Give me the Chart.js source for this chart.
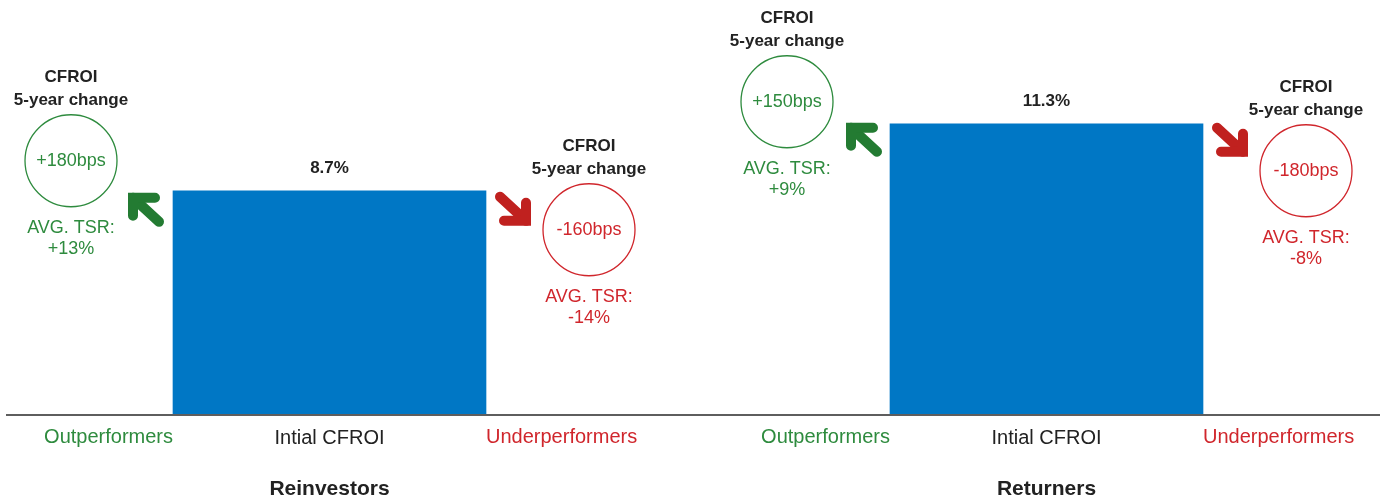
<!DOCTYPE html>
<html>
<head>
<meta charset="utf-8">
<script src="https://cdn.jsdelivr.net/npm/chart.js@4.4.1/dist/chart.umd.min.js"></script>
<style>
  html, body { margin: 0; padding: 0; background: #fff; overflow: hidden; width: 1380px; height: 501px; }
  #wrap { position: absolute; left: -29px; top: 0; width: 1434px; height: 501px; }
</style>
</head>
<body>
<div id="wrap"><canvas id="chart-area" width="1434" height="501"></canvas></div>
<script>
// data
var categories = ['Intial CFROI', 'Intial CFROI'];
var groups = ['Reinvestors', 'Returners'];
var initialCfroi = [8.7, 11.3];
var outChangeBps = [180, 150];
var outTsr = [13, 9];
var underChangeBps = [-160, -180];
var underTsr = [-14, -8];

var GREEN = '#2e8b3e', GREEN_DARK = '#237b32';
var RED = '#d0262c', RED_DARK = '#c0211f';
var DARK = '#222222';
var FONT = '"Liberation Sans", Arial, Helvetica, sans-serif';

// placement of the annotation bubbles relative to each bar (px)
var notePos = [
  { up: { cx: -102, cy: -30, ax: -27, ay: 19 }, down: { cx: 103, cy: 39, ax: 27, ay: 18 } },
  { up: { cx: -103, cy: -22, ax: -26, ay: 16 }, down: { cx: 103, cy: 47, ax: 27, ay: 16 } }
];

function fmtBps(v) { return (v > 0 ? '+' : '') + v + 'bps'; }
function fmtPct(v) { return (v > 0 ? '+' : '') + v + '%'; }

function drawArrow(ctx, x, y, up, color) {
  var d = up ? -1 : 1;
  ctx.save();
  ctx.strokeStyle = color;
  ctx.lineWidth = 10;
  ctx.lineCap = 'round';
  ctx.lineJoin = 'miter';
  var tipX = x + d * 13, tipY = y + d * 12;
  ctx.beginPath();
  ctx.moveTo(x - d * 13, y - d * 12);
  ctx.lineTo(tipX, tipY);
  ctx.stroke();
  ctx.beginPath();
  ctx.moveTo(tipX, tipY - d * 18);
  ctx.lineTo(tipX, tipY);
  ctx.lineTo(tipX - d * 22, tipY);
  ctx.stroke();
  ctx.restore();
}

function drawNote(ctx, cx, cy, color, bps, tsr) {
  ctx.save();
  ctx.textAlign = 'center';
  ctx.textBaseline = 'middle';
  ctx.fillStyle = DARK;
  ctx.font = 'bold 17px ' + FONT;
  ctx.fillText('CFROI', cx, cy - 83);
  ctx.fillText('5-year change', cx, cy - 60);
  ctx.beginPath();
  ctx.arc(cx, cy, 46, 0, Math.PI * 2);
  ctx.strokeStyle = color;
  ctx.lineWidth = 1.3;
  ctx.stroke();
  ctx.fillStyle = color;
  ctx.font = '18px ' + FONT;
  ctx.fillText(fmtBps(bps), cx, cy);
  ctx.fillText('AVG. TSR:', cx, cy + 67);
  ctx.fillText(fmtPct(tsr), cx, cy + 88);
  ctx.restore();
}

var notesPlugin = {
  id: 'notes',
  afterDatasetsDraw: function(chart) {
    var ctx = chart.ctx;
    var area = chart.chartArea;
    var bars = chart.getDatasetMeta(0).data;
    // baseline
    ctx.save();
    ctx.strokeStyle = '#5e5e5e';
    ctx.lineWidth = 2;
    ctx.beginPath();
    ctx.moveTo(35, area.bottom);
    ctx.lineTo(chart.width, area.bottom);
    ctx.stroke();
    ctx.restore();

    bars.forEach(function(bar, i) {
      var left = bar.x - bar.width / 2, right = bar.x + bar.width / 2;
      ctx.save();
      ctx.textBaseline = 'middle';
      // value label
      ctx.fillStyle = DARK;
      ctx.textAlign = 'center';
      ctx.font = 'bold 17px ' + FONT;
      ctx.fillText(initialCfroi[i].toFixed(1) + '%', bar.x, bar.y - 22);
      // side category labels
      ctx.font = '20px ' + FONT;
      ctx.textAlign = 'right';
      ctx.fillStyle = GREEN;
      ctx.fillText('Outperformers', left, area.bottom + 22);
      ctx.textAlign = 'left';
      ctx.fillStyle = RED;
      ctx.fillText('Underperformers', right, area.bottom + 22);
      // group name
      ctx.textAlign = 'center';
      ctx.fillStyle = DARK;
      ctx.font = 'bold 21px ' + FONT;
      ctx.fillText(groups[i], bar.x, area.bottom + 74);
      ctx.restore();

      var p = notePos[i];
      drawNote(ctx, left + p.up.cx, bar.y + p.up.cy, GREEN, outChangeBps[i], outTsr[i]);
      drawArrow(ctx, left + p.up.ax, bar.y + p.up.ay, true, GREEN_DARK);
      drawNote(ctx, right + p.down.cx, bar.y + p.down.cy, RED, underChangeBps[i], underTsr[i]);
      drawArrow(ctx, right + p.down.ax, bar.y + p.down.ay, false, RED_DARK);
    });
  }
};

new Chart(document.getElementById('chart-area'), {
  type: 'bar',
  data: {
    labels: categories,
    datasets: [{
      label: 'Initial CFROI',
      data: initialCfroi,
      backgroundColor: '#0077c5',
      barThickness: 313
    }]
  },
  options: {
    responsive: false,
    animation: false,
    layout: { padding: 0 },
    plugins: { legend: { display: false }, tooltip: { enabled: false } },
    scales: {
      x: {
        grid: { display: false, drawTicks: false },
        border: { display: false },
        ticks: { color: DARK, font: { family: FONT, size: 20 }, padding: 11 },
        afterFit: function(scale) { scale.height = 86; }
      },
      y: { display: false, min: 0, max: 16.1 }
    }
  },
  plugins: [notesPlugin]
});
</script>
</body>
</html>
